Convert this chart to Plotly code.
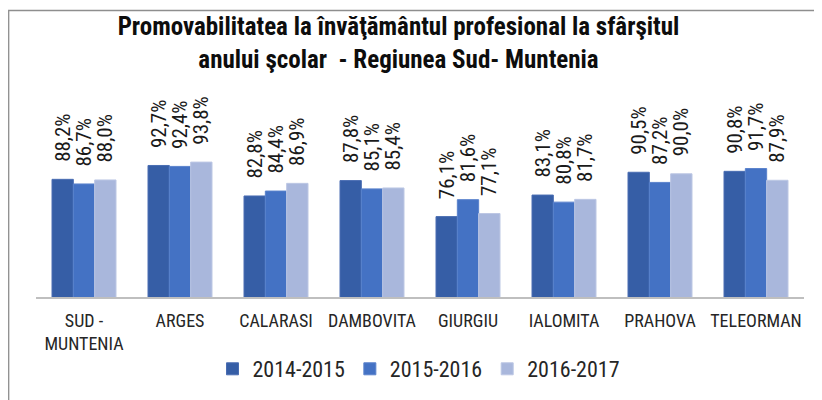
import plotly.graph_objects as go

categories = ["SUD -<br>MUNTENIA", "ARGES", "CALARASI", "DAMBOVITA", "GIURGIU",
              "IALOMITA", "PRAHOVA", "TELEORMAN"]
series_names = ["2014-2015", "2015-2016", "2016-2017"]
values_2014_2015 = [88.2, 92.7, 82.8, 87.8, 76.1, 83.1, 90.5, 90.8]
values_2015_2016 = [86.7, 92.4, 84.4, 85.1, 81.6, 80.8, 87.2, 91.7]
values_2016_2017 = [88.0, 93.8, 86.9, 85.4, 77.1, 81.7, 90.0, 87.9]
title_text = ("Promovabilitatea la învăţământul profesional la sfârşitul<br>"
              "anului şcolar  - Regiunea Sud- Muntenia")

colors = ["#365EA6", "#4472C4", "#A9B7DC"]
edge_colors = ["#4A6DB2", "#5A82CC", "#BCC7E4"]
FONT = "Roboto Condensed, Liberation Sans Narrow, Arial Narrow, sans-serif"

fig = go.Figure()
for name, vals, c, ec in zip(series_names,
                             [values_2014_2015, values_2015_2016, values_2016_2017],
                             colors, edge_colors):
    fig.add_trace(go.Bar(
        x=categories, y=vals, name=name,
        marker=dict(color=c, line=dict(color=ec, width=1)),
        texttemplate="\u00a0\u00a0\u00a0%{y:.1f}%",
        textposition="outside", textangle=-90,
        constraintext="none", cliponaxis=False,
        textfont=dict(family=FONT, size=21, color="#1A1A1A"),
        hoverinfo="skip",
    ))

# the page body adds an 8 px offset; margins compensate for it
L, R, T, B = 28, 26, 135, 111
W, H = 822, 400
ph = H - T - B
pw = W - L - R
plot_bottom = H - B

fig.update_layout(
    width=W, height=H,
    margin=dict(l=L, r=R, t=T, b=B, pad=0, autoexpand=False),
    paper_bgcolor="white", plot_bgcolor="white",
    separators=",.",
    barmode="group", bargap=1/3, bargroupgap=0,
    title=dict(text="<b>" + title_text + "</b>",
               x=390.5 / W, xanchor="center",
               yref="container", y=1 - 27 / H, yanchor="top",
               font=dict(family=FONT, size=25, color="#0D0D0D")),
    xaxis=dict(showline=True, linecolor="#BFBFBF", linewidth=2,
               ticks="", showgrid=False, tickangle=0, ticklabelstandoff=6,
               tickfont=dict(family=FONT, size=18, color="#262626")),
    yaxis=dict(range=[50, 100], visible=False, showgrid=False),
    legend=dict(orientation="h", x=(411 - L) / pw, xanchor="center",
                y=(plot_bottom - 361) / ph, yanchor="middle",
                font=dict(family=FONT, size=22, color="#262626"),
                itemwidth=30, traceorder="normal"),
    showlegend=True,
    shapes=[dict(type="rect", xref="paper", yref="paper",
                 x0=(0.7 - L) / pw, x1=1.1,
                 y0=-1.5, y1=(plot_bottom - 2.5) / ph,
                 line=dict(color="#8E8E8E", width=1.3),
                 fillcolor="rgba(0,0,0,0)", layer="below")],
)

fig.write_html("out.html")
